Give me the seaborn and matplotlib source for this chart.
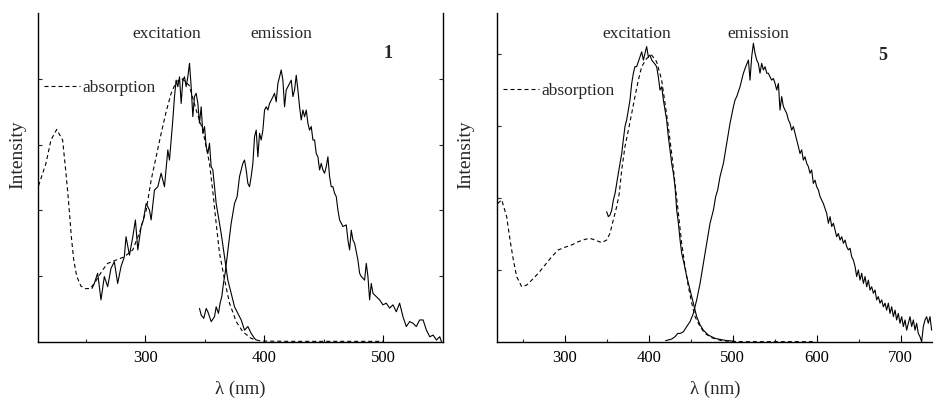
import matplotlib
matplotlib.use("Agg")
import matplotlib.pyplot as plt
import seaborn as sns

# ---- panel 1 data (wavelength in nm, relative intensity) ----
abs1_wl = [210.5, 216.7, 220.9, 225.7, 230.7, 233.5, 235.0, 236.5, 238.0, 240.0,
           242.5, 246.0, 250.0, 254.0, 257.3, 264.3, 268.5, 275.5, 282.5, 289.6,
           295.0, 300.8, 305.0, 309.2, 313.4, 317.6, 321.8, 326.0, 331.0, 337.0,
           342.8, 348.4, 354.0, 357.0, 359.6, 362.4, 366.6, 370.8, 376.4, 382.0,
           389.0, 396.6, 420.0, 460.0, 500.0]
abs1_int = [0.475, 0.543, 0.614, 0.646, 0.614, 0.513, 0.455, 0.390, 0.320, 0.250,
            0.200, 0.170, 0.162, 0.163, 0.178, 0.219, 0.239, 0.249, 0.259, 0.280,
            0.330, 0.400, 0.492, 0.563, 0.634, 0.700, 0.756, 0.791, 0.800, 0.780,
            0.705, 0.644, 0.543, 0.450, 0.360, 0.270, 0.190, 0.118, 0.062, 0.031,
            0.011, 0.003, 0.002, 0.002, 0.002]

exc1_wl = [255.4, 257.3, 260.1, 262.9, 265.7, 268.5, 271.3, 274.1, 276.9, 279.7,
           282.5, 283.9, 286.8, 289.6, 291.8, 293.8, 296.6, 298.5, 300.8, 303.6,
           305.0, 307.8, 310.6, 313.4, 316.2, 319.0, 320.4, 321.8, 323.2, 324.6,
           326.0, 327.4, 328.8, 330.2, 331.6, 333.0, 334.4, 335.8, 337.2, 338.6,
           340.0, 341.4, 342.8, 344.2, 345.6, 347.0, 348.4, 349.8, 351.2, 352.6,
           354.0, 355.4, 356.8, 358.2, 359.6, 361.0, 363.8, 366.6, 369.4, 372.2,
           375.0, 377.8, 380.6, 383.4, 386.2, 389.0, 391.8, 393.2]
exc1_int = [0.163, 0.178, 0.209, 0.128, 0.199, 0.168, 0.224, 0.244, 0.178, 0.229,
            0.259, 0.320, 0.264, 0.320, 0.371, 0.280, 0.351, 0.371, 0.421, 0.401,
            0.371, 0.462, 0.472, 0.513, 0.472, 0.584, 0.553, 0.614, 0.675, 0.746,
            0.796, 0.776, 0.806, 0.725, 0.796, 0.806, 0.776, 0.806, 0.847, 0.776,
            0.685, 0.746, 0.756, 0.725, 0.665, 0.715, 0.634, 0.655, 0.594, 0.573,
            0.604, 0.533, 0.523, 0.472, 0.421, 0.391, 0.330, 0.259, 0.188, 0.148,
            0.107, 0.087, 0.067, 0.036, 0.047, 0.026, 0.011, 0.006]

emi1_wl = [345.6, 347.0, 349.2, 351.2, 352.6, 354.0, 355.4, 358.2, 359.6, 361.5,
           362.9, 364.3, 365.7, 367.1, 368.8, 370.8, 372.2, 373.6, 375.0, 377.2,
           379.2, 380.6, 382.0, 383.4, 384.8, 386.2, 387.6, 389.0, 390.4, 391.8,
           393.2, 394.6, 396.0, 397.4, 398.8, 400.2, 401.6, 403.0, 404.4, 405.8,
           407.2, 408.6, 410.0, 411.4, 412.8, 414.2, 415.6, 417.0, 418.4, 419.8,
           421.2, 422.6, 424.0, 425.4, 426.8, 428.2, 429.6, 431.0, 432.4, 433.8,
           435.2, 436.6, 438.0, 439.4, 440.8, 442.2, 443.6, 445.0, 446.4, 447.8,
           449.2, 450.6, 452.0, 453.4, 454.8, 456.2, 457.6, 459.0, 460.4, 461.8,
           463.2, 464.6, 466.0, 468.8, 470.2, 471.6, 473.0, 474.4, 475.8, 478.6,
           480.0, 481.4, 484.2, 485.6, 487.0, 488.4, 489.8, 491.2, 494.0, 496.8,
           499.6, 502.4, 505.2, 508.0, 510.8, 513.6, 516.4, 519.2, 522.0, 524.8,
           527.6, 530.4, 533.3, 536.1, 538.9, 541.7, 544.5, 547.3, 548.7]
emi1_int = [0.102, 0.082, 0.072, 0.102, 0.092, 0.077, 0.062, 0.077, 0.107, 0.087,
            0.118, 0.138, 0.178, 0.209, 0.259, 0.320, 0.361, 0.391, 0.421, 0.442,
            0.503, 0.523, 0.543, 0.553, 0.523, 0.482, 0.472, 0.503, 0.543, 0.624,
            0.644, 0.563, 0.634, 0.614, 0.644, 0.705, 0.715, 0.705, 0.725, 0.735,
            0.745, 0.756, 0.730, 0.786, 0.806, 0.827, 0.796, 0.715, 0.766, 0.776,
            0.786, 0.796, 0.746, 0.766, 0.811, 0.766, 0.715, 0.675, 0.705, 0.685,
            0.705, 0.665, 0.644, 0.655, 0.614, 0.614, 0.573, 0.563, 0.523, 0.543,
            0.523, 0.513, 0.533, 0.563, 0.503, 0.472, 0.472, 0.452, 0.442, 0.401,
            0.371, 0.361, 0.351, 0.356, 0.310, 0.280, 0.340, 0.310, 0.300, 0.249,
            0.209, 0.199, 0.188, 0.239, 0.199, 0.128, 0.178, 0.148, 0.138, 0.128,
            0.113, 0.118, 0.103, 0.113, 0.092, 0.118, 0.077, 0.047, 0.062, 0.057,
            0.047, 0.067, 0.067, 0.036, 0.016, 0.021, 0.006, 0.016, 0.001]

# ---- panel 5 data ----
abs5_wl = [220.2, 225.0, 230.9, 234.9, 238.9, 242.8, 248.8, 254.7, 260.7, 268.6,
           276.6, 284.5, 292.4, 300.4, 308.3, 316.3, 324.2, 330.2, 336.1, 344.0,
           350.0, 353.9, 357.9, 361.9, 365.0, 367.9, 371.8, 375.8, 379.8, 383.7,
           387.7, 391.7, 397.6, 403.6, 409.5, 415.5, 419.5, 423.4, 427.4, 431.4,
           435.4, 439.3, 443.3, 447.3, 451.3, 455.2, 461.2, 467.1, 475.1, 487.0,
           502.9, 550.0, 598.0]
abs5_int = [0.421, 0.432, 0.381, 0.310, 0.249, 0.199, 0.168, 0.173, 0.188, 0.209,
            0.234, 0.259, 0.280, 0.288, 0.295, 0.305, 0.312, 0.315, 0.310, 0.302,
            0.310, 0.330, 0.371, 0.411, 0.452, 0.523, 0.594, 0.644, 0.695, 0.746,
            0.796, 0.837, 0.862, 0.872, 0.852, 0.796, 0.725, 0.655, 0.573, 0.482,
            0.391, 0.300, 0.229, 0.168, 0.118, 0.077, 0.047, 0.026, 0.013, 0.004,
            0.001, 0.001, 0.001]

exc5_wl = [350.0, 352.0, 354.0, 356.0, 358.0, 360.0, 363.9, 365.9, 367.9, 369.8,
           371.8, 373.8, 375.8, 377.8, 379.8, 381.8, 383.7, 385.7, 387.7, 389.7,
           391.7, 393.7, 395.6, 397.6, 399.6, 401.6, 403.6, 406.8, 409.5, 411.5,
           413.5, 415.5, 417.5, 419.5, 421.4, 423.4, 425.4, 427.4, 429.4, 431.4,
           433.4, 435.4, 437.4, 439.3, 442.1, 445.3, 449.3, 453.2, 457.2, 461.2,
           465.1, 471.1, 479.0, 491.0, 502.9]
exc5_int = [0.396, 0.381, 0.386, 0.401, 0.432, 0.452, 0.513, 0.543, 0.573, 0.614,
            0.655, 0.675, 0.705, 0.736, 0.786, 0.817, 0.837, 0.837, 0.852, 0.867,
            0.882, 0.857, 0.877, 0.898, 0.867, 0.872, 0.857, 0.847, 0.837, 0.806,
            0.766, 0.776, 0.736, 0.705, 0.675, 0.624, 0.584, 0.543, 0.513, 0.472,
            0.401, 0.361, 0.310, 0.270, 0.239, 0.199, 0.158, 0.118, 0.077, 0.052,
            0.036, 0.021, 0.011, 0.005, 0.002]

emi5_wl = [420.2, 427.4, 431.4, 434.6, 437.4, 441.3, 445.3, 449.3, 453.2, 457.2,
           461.2, 465.1, 469.1, 473.1, 477.1, 479.8, 482.2, 485.0, 489.0, 492.9,
           496.9, 500.9, 502.9, 504.9, 508.8, 512.8, 515.6, 518.8, 520.7, 522.7,
           524.7, 526.7, 528.7, 530.6, 532.6, 534.6, 536.6, 538.6, 540.6, 542.5,
           544.5, 546.5, 548.5, 550.5, 552.5, 554.5, 556.4, 558.4, 560.4, 562.4,
           564.4, 566.4, 568.3, 570.3, 572.3, 574.3, 576.3, 578.3, 580.2, 582.2,
           584.2, 586.2, 588.2, 590.2, 592.1, 594.1, 596.1, 598.1, 600.1, 602.1,
           604.1, 608.0, 612.0, 614.0, 616.0, 618.0, 620.0, 622.0, 623.9, 625.9,
           627.9, 629.9, 631.9, 633.9, 635.8, 637.8, 639.8, 641.8, 643.8, 645.8,
           647.7, 649.7, 651.7, 653.7, 655.7, 657.7, 659.6, 661.6, 663.6, 665.6,
           667.6, 669.6, 671.5, 673.5, 675.5, 677.5, 679.5, 681.5, 683.4, 685.4,
           687.4, 689.4, 691.4, 693.4, 695.3, 697.3, 699.3, 701.3, 703.3, 705.3,
           707.2, 709.2, 711.2, 713.2, 715.2, 717.2, 719.1, 721.1, 723.1, 725.1,
           727.1, 729.1, 731.0, 733.0, 735.0, 737.0]
emi5_int = [0.004, 0.009, 0.016, 0.026, 0.026, 0.031, 0.047, 0.062, 0.087, 0.128,
            0.178, 0.239, 0.300, 0.361, 0.401, 0.442, 0.462, 0.503, 0.543, 0.604,
            0.665, 0.715, 0.736, 0.746, 0.776, 0.817, 0.837, 0.857, 0.796, 0.867,
            0.908, 0.877, 0.857, 0.847, 0.817, 0.847, 0.827, 0.837, 0.817, 0.817,
            0.806, 0.796, 0.801, 0.786, 0.766, 0.786, 0.705, 0.746, 0.716, 0.705,
            0.695, 0.675, 0.665, 0.644, 0.655, 0.634, 0.614, 0.594, 0.573, 0.584,
            0.553, 0.563, 0.543, 0.533, 0.513, 0.523, 0.482, 0.492, 0.472, 0.462,
            0.442, 0.421, 0.391, 0.361, 0.381, 0.351, 0.361, 0.340, 0.320, 0.330,
            0.310, 0.320, 0.300, 0.310, 0.290, 0.280, 0.285, 0.259, 0.249, 0.229,
            0.199, 0.219, 0.188, 0.209, 0.178, 0.199, 0.168, 0.188, 0.158, 0.168,
            0.148, 0.158, 0.128, 0.138, 0.118, 0.128, 0.107, 0.118, 0.097, 0.118,
            0.087, 0.107, 0.077, 0.097, 0.067, 0.087, 0.057, 0.077, 0.047, 0.067,
            0.036, 0.057, 0.077, 0.047, 0.067, 0.036, 0.057, 0.026, 0.016, 0.001,
            0.047, 0.067, 0.077, 0.057, 0.077, 0.036]

sns.set_theme(style="ticks")
plt.rcParams["font.family"] = ["Liberation Serif", "DejaVu Serif"]

fig = plt.figure(figsize=(9.33, 3.98), dpi=100)
ax1 = fig.add_axes([0.0407, 0.1407, 0.4341, 0.8266])
ax2 = fig.add_axes([0.5327, 0.1407, 0.4673, 0.8266])

dash = (0, (3.6, 2.7))
panels = [
    (ax1, abs1_wl, abs1_int, exc1_wl, exc1_int, emi1_wl, emi1_int),
    (ax2, abs5_wl, abs5_int, exc5_wl, exc5_int, emi5_wl, emi5_int),
]

for ax, awl, aint, xwl, xint, ewl, eint in panels:
    sns.lineplot(x=awl, y=aint, ax=ax, color="black", lw=0.8, linestyle=dash,
                 label="absorption", estimator=None, sort=False)
    sns.lineplot(x=xwl, y=xint, ax=ax, color="black", lw=0.8,
                 estimator=None, sort=False)
    sns.lineplot(x=ewl, y=eint, ax=ax, color="black", lw=0.8,
                 estimator=None, sort=False)

# axis ranges and ticks
ax1.set_xlim(210, 550)
ax2.set_xlim(219.4, 738.6)
for ax in (ax1, ax2):
    ax.set_ylim(0, 1)
ax1.set_xticks([300, 400, 500])
ax1.set_xticks([250, 350, 450], minor=True)
ax2.set_xticks([300, 400, 500, 600, 700])
ax2.set_xticks([250, 350, 450, 550, 650], minor=True)
ax1.set_yticks([0.2, 0.4, 0.6, 0.8])
ax2.set_yticks([0.219, 0.438, 0.657, 0.876])

for ax in (ax1, ax2):
    ax.tick_params(axis="x", which="major", direction="in", length=5, width=0.8,
                   labelsize=12, pad=6, colors="black")
    ax.tick_params(axis="x", which="minor", direction="in", length=2.2, width=0.8)
    ax.tick_params(axis="y", direction="in", length=3, width=0.8, labelleft=False)
    ax.spines["top"].set_visible(False)
    for s in ("left", "bottom", "right"):
        ax.spines[s].set_linewidth(1.0)
        ax.spines[s].set_color("black")
    ax.set_xlabel("λ (nm)", fontsize=13.5)
    ax.set_ylabel("Intensity", fontsize=14)
    ax.xaxis.set_label_coords(0.5, -0.118)

ax1.tick_params(axis="y", right=True)
ax2.spines["right"].set_visible(False)
ax1.yaxis.set_label_coords(-0.030, 0.57)
ax2.yaxis.set_label_coords(-0.053, 0.57)

# annotations
ax1.text(0.319, 0.924, "excitation", transform=ax1.transAxes, ha="center",
         va="baseline", fontsize=12.5)
ax1.text(0.602, 0.924, "emission", transform=ax1.transAxes, ha="center",
         va="baseline", fontsize=12.5)
ax1.text(0.864, 0.862, "1", transform=ax1.transAxes, ha="center",
         va="baseline", fontsize=13, fontweight="bold")
ax2.text(0.321, 0.924, "excitation", transform=ax2.transAxes, ha="center",
         va="baseline", fontsize=12.5)
ax2.text(0.599, 0.924, "emission", transform=ax2.transAxes, ha="center",
         va="baseline", fontsize=12.5)
ax2.text(0.885, 0.858, "5", transform=ax2.transAxes, ha="center",
         va="baseline", fontsize=13, fontweight="bold")

ax1.legend(loc="center left", bbox_to_anchor=(0.015, 0.772), frameon=False,
           handlelength=2.07, handletextpad=0.12, borderpad=0, borderaxespad=0,
           fontsize=12.5)
ax2.legend(loc="center left", bbox_to_anchor=(0.014, 0.763), frameon=False,
           handlelength=2.07, handletextpad=0.12, borderpad=0, borderaxespad=0,
           fontsize=12.5)

fig.savefig("out.png", dpi=100)
